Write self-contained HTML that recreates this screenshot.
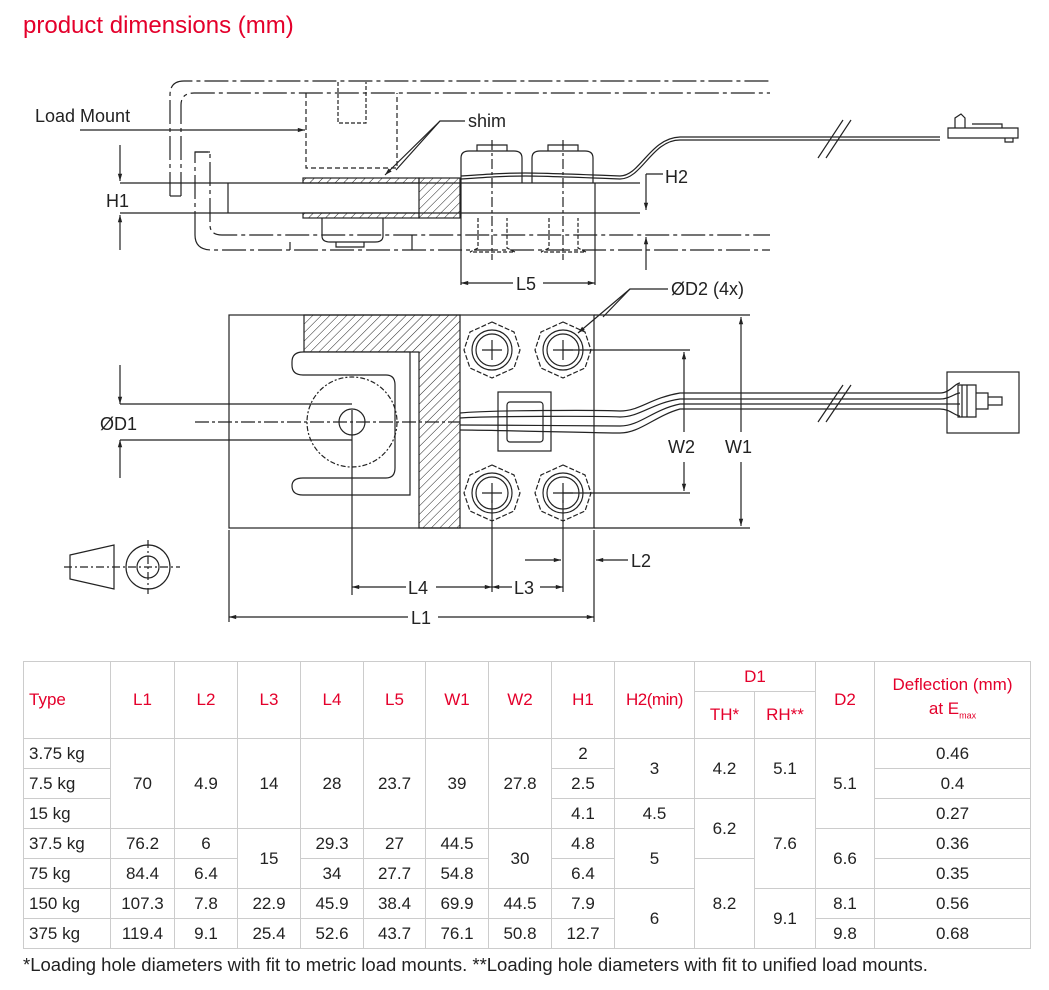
<!DOCTYPE html>
<html><head><meta charset="utf-8"><style>
body{margin:0;background:#fff;width:1049px;height:990px;overflow:hidden;font-family:"Liberation Sans",sans-serif;}
svg{position:absolute;left:0;top:0}
table{position:absolute;left:23px;top:661px;border-collapse:collapse;font-size:17px;color:#222;table-layout:fixed}
td{border:1px solid #ccc;text-align:center;padding:0;height:29px;line-height:28px}
.h td{color:#e4002b}
.t{text-align:left;padding-left:5px}
</style></head><body>
<svg width="1049" height="660" viewBox="0 0 1049 660" font-family="Liberation Sans, sans-serif">
<defs>
<pattern id="hp" width="6" height="6" patternUnits="userSpaceOnUse" patternTransform="rotate(45)"><line x1="0" y1="0" x2="0" y2="6" stroke="#222" stroke-width="1"/></pattern>
<marker id="a" viewBox="0 0 10 10" refX="10" refY="5" markerWidth="9" markerHeight="6" orient="auto-start-reverse"><path d="M0,2 L10,5 L0,8z" fill="#222"/></marker>
</defs>
<text x="23" y="33" font-size="24" fill="#e4002b">product dimensions (mm)</text>
<g stroke="#222" fill="none" stroke-width="1.2">
<!-- side view -->
<text x="35" y="122" font-size="18" fill="#222" stroke="none">Load Mount</text>
<line x1="80" y1="130" x2="305" y2="130" marker-end="url(#a)"/>
<path d="M170,196 V95 Q170,81 184,81 H770" stroke-dasharray="24,4,4,4"/>
<path d="M181,196 V105 Q181,93 194,93 H770" stroke-dasharray="24,4,4,4"/>
<path d="M170,196 H181"/>
<path d="M195,235 V152 H210 V225 Q210,235 222,235 H770" stroke-dasharray="24,4,4,4"/>
<path d="M195,235 Q195,250 212,250 H770" stroke-dasharray="24,4,4,4"/>
<path d="M195,152 H210"/>
<path d="M306,93 V168 H397 V93" stroke-dasharray="5,3"/>
<path d="M338,82 V123 H366 V82" stroke-dasharray="4,2"/>
<line x1="120" y1="183" x2="640" y2="183"/>
<line x1="120" y1="213" x2="640" y2="213"/>
<line x1="228" y1="183" x2="228" y2="213"/>
<rect x="303" y="178" width="116" height="5" fill="url(#hp)"/>
<rect x="303" y="213" width="116" height="5" fill="url(#hp)"/>
<rect x="419" y="178" width="41" height="40" fill="url(#hp)"/>
<line x1="120" y1="145" x2="120" y2="181" marker-end="url(#a)"/>
<line x1="120" y1="250" x2="120" y2="215" marker-end="url(#a)"/>
<text x="106" y="207" font-size="18" fill="#222" stroke="none">H1</text>
<path d="M322,218 v18 q0,6 8,6 h45 q8,0 8,-6 v-18"/>
<path d="M336,242 v5 h28 v-5"/>
<line x1="290" y1="242" x2="290" y2="250"/><line x1="412" y1="235" x2="412" y2="250"/>
<g>
<path d="M461,183 v-25 q0,-7 8,-7 h45 q8,0 8,7 v25"/><path d="M477,151 v-6 h30 v6"/>
<path d="M532,183 v-25 q0,-7 8,-7 h45 q8,0 8,7 v25"/><path d="M548,151 v-6 h30 v6"/>
<path d="M478,218 v30 l-8,4 h45 l-8,-4 v-30" stroke-dasharray="4,2"/>
<path d="M549,218 v30 l-8,4 h45 l-8,-4 v-30" stroke-dasharray="4,2"/>
<line x1="492" y1="140" x2="492" y2="260" stroke-dasharray="10,3,3,3"/>
<line x1="563" y1="140" x2="563" y2="260" stroke-dasharray="10,3,3,3"/>
<line x1="461" y1="183" x2="461" y2="285"/><line x1="595" y1="183" x2="595" y2="285"/>
<line x1="461" y1="283" x2="513" y2="283" marker-start="url(#a)"/>
<line x1="543" y1="283" x2="595" y2="283" marker-end="url(#a)"/>
</g>
<text x="516" y="290" font-size="18" fill="#222" stroke="none">L5</text>
<path d="M396,170 L440,121 H465"/><line x1="440" y1="121" x2="385" y2="175" marker-end="url(#a)"/>
<text x="468" y="127" font-size="18" fill="#222" stroke="none">shim</text>
<path d="M461,176 C520,172 520,172 620,176 C640,176 650,138 680,137 H940"/>
<path d="M461,179 C520,175 520,175 620,179 C642,179 652,140 680,140 H940"/>
<path d="M948,128 h70 v10 h-70z M955,128 v-10 l6,-4 l4,4 v10 M972,124 h30 v4 M1005,138 v4 h8 v-4"/>
<path d="M818,158 L843,120 M826,158 L851,120"/>
<path d="M646,174 V210" marker-end="url(#a)"/><path d="M646,174 H663"/>
<path d="M646,270 V237" marker-end="url(#a)"/>
<text x="665" y="183" font-size="18" fill="#222" stroke="none">H2</text>
<!-- top view -->
<rect x="229" y="315" width="365" height="213"/>
<path d="M304,315 H460 V528 H419 V352 H304z" fill="url(#hp)"/>
<path d="M303,352 Q292,352 292,362 V365 Q292,375 303,375 H386 Q395,375 395,385 V468 Q395,478 386,478 H303 Q292,478 292,486 Q292,495 303,495 H410 V352z" fill="#fff"/>
<ellipse cx="352" cy="422" rx="45" ry="45" stroke-dasharray="5,2,2,2"/>
<circle cx="352" cy="422" r="13"/>
<line x1="195" y1="422" x2="460" y2="422" stroke-dasharray="14,3,3,3"/>
<line x1="352" y1="410" x2="352" y2="595"/>
<line x1="120" y1="365" x2="120" y2="404" marker-end="url(#a)"/>
<line x1="120" y1="478" x2="120" y2="440" marker-end="url(#a)"/>
<line x1="120" y1="404" x2="352" y2="404"/><line x1="120" y1="440" x2="352" y2="440"/>
<text x="100" y="430" font-size="18" fill="#222" stroke="none">ØD1</text>
<g id="bl">
<polygon points="492,322 514,332 520,350 514,368 492,378 470,368 464,350 470,332" stroke-dasharray="5,2"/>
<circle cx="492" cy="350" r="20"/><circle cx="492" cy="350" r="16"/>
<line x1="482" y1="350" x2="502" y2="350"/><line x1="492" y1="340" x2="492" y2="360"/>
</g>
<use href="#bl" x="71"/><use href="#bl" y="143"/><use href="#bl" x="71" y="143"/>
<rect x="498" y="392" width="53" height="59"/>
<rect x="507" y="402" width="36" height="40" rx="3"/>
<path d="M460,413 C490,410 600,410 620,411 C640,411 650,398 680,393 H940 C950,393 955,383 960,383"/>
<path d="M460,418 C490,416 600,416 620,417 C640,417 652,403 680,399 H940 C950,399 955,393 960,393"/>
<path d="M460,425 C490,425 600,426 620,426 C640,426 652,410 680,404 H940 C950,404 955,404 960,404"/>
<path d="M460,430 C490,430 600,433 620,433 C640,433 655,416 680,409 H940 C950,409 955,416 960,416"/>
<rect x="947" y="372" width="72" height="61"/>
<path d="M958,385 h18 v32 h-18z M962,385 v32 M967,385 v32 M976,393 h12 v16 h-12 M988,397 h14 v8 h-14"/>
<path d="M818,422 L843,385 M826,422 L851,385"/>
<line x1="563" y1="350" x2="690" y2="350"/><line x1="563" y1="493" x2="690" y2="493"/>
<line x1="684" y1="352" x2="684" y2="432" marker-start="url(#a)"/>
<line x1="684" y1="462" x2="684" y2="491" marker-end="url(#a)"/>
<text x="668" y="453" font-size="18" fill="#222" stroke="none">W2</text>
<line x1="594" y1="315" x2="750" y2="315"/><line x1="594" y1="528" x2="750" y2="528"/>
<line x1="741" y1="317" x2="741" y2="432" marker-start="url(#a)"/>
<line x1="741" y1="462" x2="741" y2="526" marker-end="url(#a)"/>
<text x="725" y="453" font-size="18" fill="#222" stroke="none">W1</text>
<path d="M603,317 L630,289 H668"/><line x1="630" y1="289" x2="578" y2="333" marker-end="url(#a)"/>
<text x="671" y="295" font-size="18" fill="#222" stroke="none">ØD2 (4x)</text>
<line x1="229" y1="530" x2="229" y2="622"/><line x1="594" y1="530" x2="594" y2="622"/>
<line x1="492" y1="500" x2="492" y2="592"/><line x1="563" y1="500" x2="563" y2="592"/>
<line x1="229" y1="617" x2="408" y2="617" marker-start="url(#a)"/>
<line x1="438" y1="617" x2="594" y2="617" marker-end="url(#a)"/>
<text x="411" y="624" font-size="18" fill="#222" stroke="none">L1</text>
<line x1="352" y1="587" x2="406" y2="587" marker-start="url(#a)"/>
<line x1="436" y1="587" x2="492" y2="587" marker-end="url(#a)"/>
<text x="408" y="594" font-size="18" fill="#222" stroke="none">L4</text>
<line x1="492" y1="587" x2="512" y2="587" marker-start="url(#a)"/>
<line x1="540" y1="587" x2="563" y2="587" marker-end="url(#a)"/>
<text x="514" y="594" font-size="18" fill="#222" stroke="none">L3</text>
<line x1="525" y1="560" x2="561" y2="560" marker-end="url(#a)"/>
<line x1="628" y1="560" x2="596" y2="560" marker-end="url(#a)"/>
<text x="631" y="567" font-size="18" fill="#222" stroke="none">L2</text>
<path d="M70,555 L114,545 V589 L70,579z"/>
<line x1="64" y1="567" x2="180" y2="567" stroke-dasharray="8,3,2,3"/>
<circle cx="148" cy="567" r="22"/><circle cx="148" cy="567" r="11"/>
<line x1="148" y1="540" x2="148" y2="594" stroke-dasharray="8,3,2,3"/>
</g>
</svg>
<table>
<colgroup><col style="width:87px"><col style="width:64px"><col style="width:63px"><col style="width:63px"><col style="width:63px"><col style="width:62px"><col style="width:63px"><col style="width:63px"><col style="width:63px"><col style="width:80px"><col style="width:60px"><col style="width:61px"><col style="width:59px"><col style="width:156px"></colgroup>
<tr class="h"><td class="t" rowspan="2" style="height:76px">Type</td><td rowspan="2">L1</td><td rowspan="2">L2</td><td rowspan="2">L3</td><td rowspan="2">L4</td><td rowspan="2">L5</td><td rowspan="2">W1</td><td rowspan="2">W2</td><td rowspan="2">H1</td><td rowspan="2" style="letter-spacing:-0.5px">H2(min)</td><td colspan="2" style="height:29px">D1</td><td rowspan="2">D2</td><td rowspan="2" style="line-height:24px">Deflection (mm)<br>at E<sub style="font-size:9px">max</sub></td></tr>
<tr class="h"><td style="height:46px">TH*</td><td>RH**</td></tr>
<tr><td class="t">3.75 kg</td><td rowspan="3">70</td><td rowspan="3">4.9</td><td rowspan="3">14</td><td rowspan="3">28</td><td rowspan="3">23.7</td><td rowspan="3">39</td><td rowspan="3">27.8</td><td>2</td><td rowspan="2">3</td><td rowspan="2">4.2</td><td rowspan="2">5.1</td><td rowspan="3">5.1</td><td>0.46</td></tr>
<tr><td class="t">7.5 kg</td><td>2.5</td><td>0.4</td></tr>
<tr><td class="t">15 kg</td><td>4.1</td><td>4.5</td><td rowspan="2">6.2</td><td rowspan="3">7.6</td><td>0.27</td></tr>
<tr><td class="t">37.5 kg</td><td>76.2</td><td>6</td><td rowspan="2">15</td><td>29.3</td><td>27</td><td>44.5</td><td rowspan="2">30</td><td>4.8</td><td rowspan="2">5</td><td rowspan="2">6.6</td><td>0.36</td></tr>
<tr><td class="t">75 kg</td><td>84.4</td><td>6.4</td><td>34</td><td>27.7</td><td>54.8</td><td>6.4</td><td rowspan="3">8.2</td><td>0.35</td></tr>
<tr><td class="t">150 kg</td><td>107.3</td><td>7.8</td><td>22.9</td><td>45.9</td><td>38.4</td><td>69.9</td><td>44.5</td><td>7.9</td><td rowspan="2">6</td><td rowspan="2">9.1</td><td>8.1</td><td>0.56</td></tr>
<tr><td class="t">375 kg</td><td>119.4</td><td>9.1</td><td>25.4</td><td>52.6</td><td>43.7</td><td>76.1</td><td>50.8</td><td>12.7</td><td>9.8</td><td>0.68</td></tr>
</table>
<div style="position:absolute;left:23px;top:954px;font-size:18.5px;color:#222;white-space:nowrap">*Loading hole diameters with fit to metric load mounts. **Loading hole diameters with fit to unified load mounts.</div>
</body></html>
